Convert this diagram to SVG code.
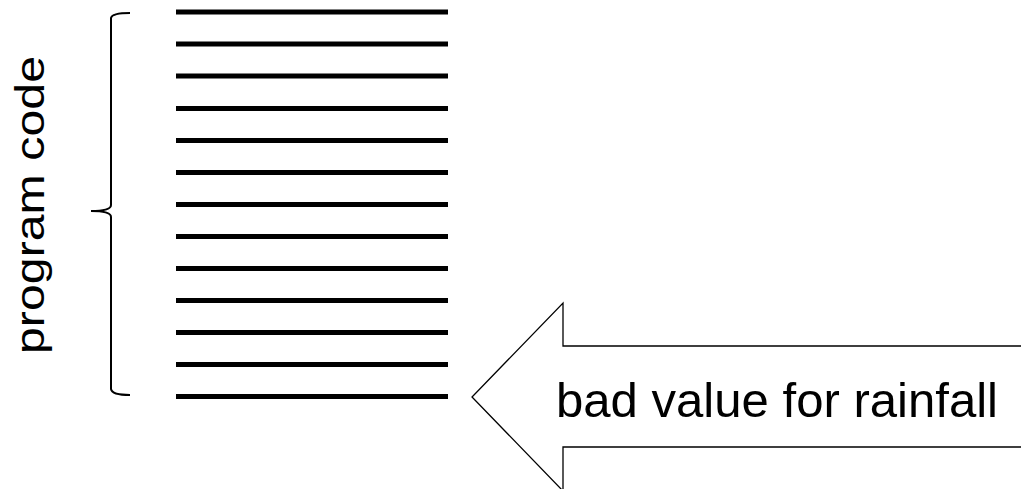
<svg xmlns="http://www.w3.org/2000/svg" width="1021" height="489" viewBox="0 0 1021 489">
  <style>
    .code { stroke: #000; stroke-width: 5; }
    .brace { fill: none; stroke: #000; stroke-width: 2; }
    .arrow { fill: #fff; stroke: #000; stroke-width: 1.3; }
    .label { font-family: "Liberation Sans", Arial, sans-serif; fill: #000; }
  </style>
  <rect width="1021" height="489" fill="#fff"/>

  <!-- lines of program code -->
  <g id="code-lines">
    <line class="code" x1="176" y1="12" x2="448" y2="12"/>
    <line class="code" x1="176" y1="44" x2="448" y2="44"/>
    <line class="code" x1="176" y1="76" x2="448" y2="76"/>
    <line class="code" x1="176" y1="108.5" x2="448" y2="108.5"/>
    <line class="code" x1="176" y1="140.5" x2="448" y2="140.5"/>
    <line class="code" x1="176" y1="172.5" x2="448" y2="172.5"/>
    <line class="code" x1="176" y1="204.5" x2="448" y2="204.5"/>
    <line class="code" x1="176" y1="236.5" x2="448" y2="236.5"/>
    <line class="code" x1="176" y1="268.5" x2="448" y2="268.5"/>
    <line class="code" x1="176" y1="300.5" x2="448" y2="300.5"/>
    <line class="code" x1="176" y1="332.5" x2="448" y2="332.5"/>
    <line class="code" x1="176" y1="364.5" x2="448" y2="364.5"/>
    <line class="code" x1="176" y1="396.5" x2="448" y2="396.5"/>
  </g>

  <!-- curly brace with label -->
  <g id="program-code">
    <path class="brace" d="M130,13 Q112,13 111,18 L111,205 Q111,211 91,211 Q111,211 111,217 L111,389 Q112,395 130,395"/>
    <text class="label" font-size="40" transform="translate(44,354) rotate(-90)" textLength="298" lengthAdjust="spacingAndGlyphs">program code</text>
  </g>

  <!-- block arrow pointing at the last line -->
  <g id="bad-value">
    <path class="arrow" d="M1030,346 L563,346 L563,303 L472,397 L563,491 L563,447 L1030,447 Z"/>
    <text class="label" font-size="48" x="556" y="417" textLength="442" lengthAdjust="spacingAndGlyphs">bad value for rainfall</text>
  </g>
</svg>
